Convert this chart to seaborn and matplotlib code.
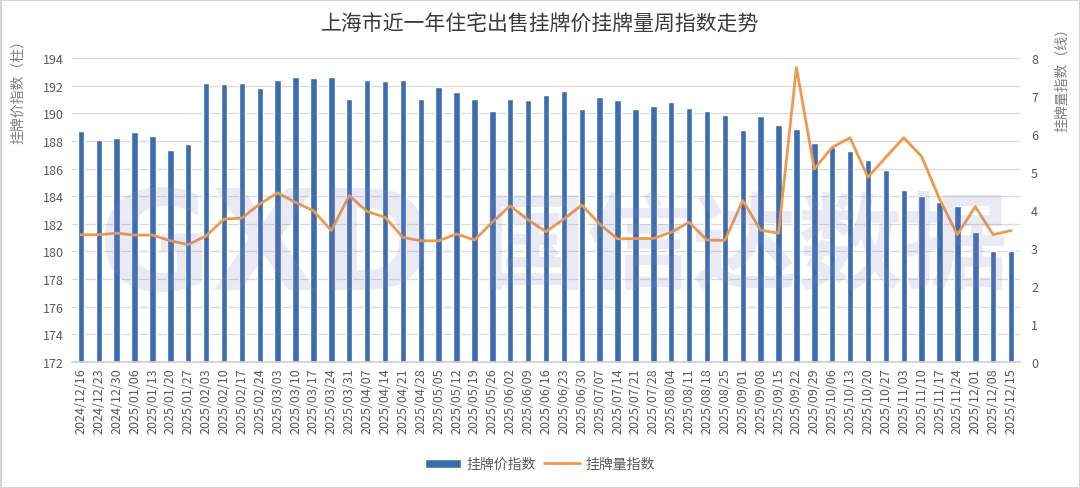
import numpy as np
import pandas as pd
import matplotlib
matplotlib.use("Agg")
import matplotlib.pyplot as plt
import seaborn as sns
from matplotlib.lines import Line2D
from matplotlib.patches import Patch

# weekly categories
dates = [
    "2024/12/16", "2024/12/23", "2024/12/30", "2025/01/06", "2025/01/13", "2025/01/20",
    "2025/01/27", "2025/02/03", "2025/02/10", "2025/02/17", "2025/02/24", "2025/03/03",
    "2025/03/10", "2025/03/17", "2025/03/24", "2025/03/31", "2025/04/07", "2025/04/14",
    "2025/04/21", "2025/04/28", "2025/05/05", "2025/05/12", "2025/05/19", "2025/05/26",
    "2025/06/02", "2025/06/09", "2025/06/16", "2025/06/23", "2025/06/30", "2025/07/07",
    "2025/07/14", "2025/07/21", "2025/07/28", "2025/08/04", "2025/08/11", "2025/08/18",
    "2025/08/25", "2025/09/01", "2025/09/08", "2025/09/15", "2025/09/22", "2025/09/29",
    "2025/10/06", "2025/10/13", "2025/10/20", "2025/10/27", "2025/11/03", "2025/11/10",
    "2025/11/17", "2025/11/24", "2025/12/01", "2025/12/08", "2025/12/15",
]

# 挂牌价指数 (bars, left axis)
price_index = [
    188.70, 188.07, 188.19, 188.67, 188.36, 187.35, 187.76, 192.17, 192.10, 192.22,
    191.83, 192.39, 192.65, 192.55, 192.60, 191.01, 192.39, 192.34, 192.39, 191.01,
    191.90, 191.52, 191.01, 190.14, 191.06, 190.96, 191.35, 191.61, 190.31, 191.16,
    190.96, 190.31, 190.55, 190.84, 190.39, 190.14, 189.88, 188.82, 189.81, 189.13,
    188.87, 187.86, 187.54, 187.25, 186.60, 185.86, 184.46, 184.02, 183.61, 183.30,
    181.40, 180.05, 180.05,
]

# 挂牌量指数 (line, right axis)
volume_index = [
    3.35, 3.35, 3.39, 3.34, 3.34, 3.19, 3.09, 3.32, 3.76, 3.79,
    4.16, 4.45, 4.20, 3.98, 3.46, 4.38, 3.96, 3.81, 3.28, 3.19,
    3.19, 3.37, 3.21, 3.68, 4.11, 3.74, 3.43, 3.76, 4.13, 3.63,
    3.24, 3.25, 3.25, 3.41, 3.68, 3.21, 3.20, 4.25, 3.47, 3.39,
    7.75, 5.08, 5.65, 5.90, 4.86, 5.39, 5.90, 5.41, 4.29, 3.35,
    4.09, 3.35, 3.46,
]

df = pd.DataFrame({"week": dates, "price": price_index, "volume": volume_index})
df["pos"] = np.arange(len(df))

bar_color = "#3C6DB0"
line_color = "#EE9A4D"
text_color = "#595959"

sns.set_theme(style="white")
plt.rcParams["font.family"] = ["Noto Sans CJK SC", "DejaVu Sans"]

fig = plt.figure(figsize=(10.8, 4.89), dpi=100)
fig.patch.set_edgecolor("#d4d4d4")
fig.patch.set_linewidth(2)

ax = fig.add_axes([72 / 1080, 1 - 363 / 489, (1020 - 72) / 1080, (363 - 59) / 489])
sns.barplot(data=df, x="week", y="price", color=bar_color, saturation=1,
            width=0.36, ax=ax, zorder=2)
ax.set_xlim(-0.5, len(df) - 0.5)
ax.set_ylim(172, 194)
ax.set_yticks(range(172, 195, 2))
ax.grid(axis="y", color="#d9d9d9", lw=0.9)
ax.set_axisbelow(True)
ax.set_xlabel("")
ax.set_ylabel("")
ax.tick_params(axis="x", rotation=90, labelsize=9, colors=text_color, length=0, pad=4)
ax.tick_params(axis="y", labelsize=9, colors=text_color, length=0, pad=6)
for s in ["top", "left", "right"]:
    ax.spines[s].set_visible(False)
ax.spines["bottom"].set_color("#d0d0d0")

ax2 = ax.twinx()
sns.lineplot(data=df, x="pos", y="volume", color=line_color, lw=2, ax=ax2, zorder=3)
ax2.set_ylim(0, 8)
ax2.set_yticks(range(0, 9))
ax2.set_xlim(-0.5, len(df) - 0.5)
ax2.set_ylabel("")
ax2.tick_params(axis="y", labelsize=9, colors=text_color, length=0, pad=8)
for s in ["top", "left", "right", "bottom"]:
    ax2.spines[s].set_visible(False)

# watermark
fig.text(265 / 1080, 1 - 252 / 489, "GXD", fontsize=100, fontweight="bold",
         color="#7F86BE", alpha=0.17, ha="center", va="center", family="DejaVu Sans")
fig.text(745 / 1080, 1 - 250 / 489, "国信达数据", fontsize=76, fontweight="bold",
         color="#7F86BE", alpha=0.17, ha="center", va="center")

fig.text(0.5, 1 - 25 / 489, "上海市近一年住宅出售挂牌价挂牌量周指数走势",
         fontsize=15, color="#3a3a3a", ha="center", va="center", fontweight="medium")
fig.text(18 / 1080, 1 - 88 / 489, "挂牌价指数（柱）", rotation=90, fontsize=10,
         color="#7f7f7f", ha="center", va="center")
fig.text(1062 / 1080, 1 - 76 / 489, "挂牌量指数（线）", rotation=90, fontsize=10,
         color="#7f7f7f", ha="center", va="center")

handles = [Patch(facecolor=bar_color, label="挂牌价指数"),
           Line2D([0], [0], color=line_color, lw=2, label="挂牌量指数")]
fig.legend(handles=handles, loc="center", bbox_to_anchor=(540 / 1080, 1 - 465 / 489),
           ncol=2, frameon=False, fontsize=10, labelcolor=text_color,
           handlelength=2.6, handleheight=0.6, columnspacing=0.6, handletextpad=0.4)

fig.savefig("out.png", dpi=100, facecolor="white", edgecolor=fig.patch.get_edgecolor())
